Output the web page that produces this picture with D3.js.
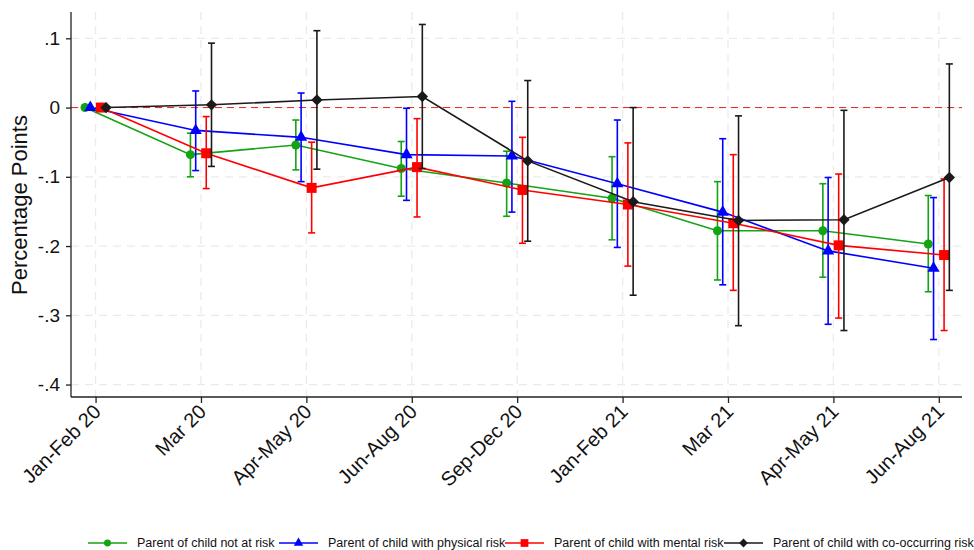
<!DOCTYPE html>
<html>
<head>
<meta charset="utf-8">
<script src="https://cdn.jsdelivr.net/npm/d3@7"></script>
<style>
  body { margin: 0; background: #fff; }
  svg { display: block; font-family: "Liberation Sans", Arial, Helvetica, sans-serif; }
</style>
</head>
<body>
<svg id="chart" width="974" height="550"></svg>
<script>
// periods on the x axis
var periods = ["Jan-Feb 20", "Mar 20", "Apr-May 20", "Jun-Aug 20", "Sep-Dec 20",
               "Jan-Feb 21", "Mar 21", "Apr-May 21", "Jun-Aug 21"];
var yTicks = [0.1, 0, -0.1, -0.2, -0.3, -0.4];
var yTickLabels = [".1", "0", "-.1", "-.2", "-.3", "-.4"];

// point estimates and 95% CI, Jan-Feb 20 is the reference period
var notAtRisk   = [0, -0.068, -0.054, -0.088, -0.109, -0.131, -0.178, -0.178, -0.197];
var notAtRiskLo = [null, -0.100, -0.090, -0.128, -0.157, -0.191, -0.249, -0.245, -0.266];
var notAtRiskHi = [null, -0.037, -0.018, -0.049, -0.063, -0.071, -0.107, -0.110, -0.127];

var physical   = [0, -0.033, -0.043, -0.068, -0.070, -0.110, -0.151, -0.207, -0.232];
var physicalLo = [null, -0.091, -0.107, -0.134, -0.151, -0.202, -0.256, -0.313, -0.335];
var physicalHi = [null, 0.024, 0.021, -0.001, 0.009, -0.018, -0.045, -0.101, -0.130];

var mental   = [0, -0.066, -0.116, -0.086, -0.119, -0.140, -0.167, -0.199, -0.213];
var mentalLo = [null, -0.117, -0.181, -0.158, -0.196, -0.229, -0.264, -0.304, -0.322];
var mentalHi = [null, -0.013, -0.050, -0.016, -0.043, -0.051, -0.068, -0.096, -0.103];

var cooccur   = [0, 0.004, 0.011, 0.016, -0.077, -0.136, -0.163, -0.162, -0.101];
var cooccurLo = [null, -0.085, -0.089, -0.088, -0.193, -0.271, -0.315, -0.322, -0.264];
var cooccurHi = [null, 0.093, 0.111, 0.120, 0.039, 0.000, -0.012, -0.004, 0.063];

var seriesNames = ["Parent of child not at risk", "Parent of child with physical risk",
                   "Parent of child with mental risk", "Parent of child with co-occurring risk"];

var series = [
    {name: seriesNames[0], vals: notAtRisk, lo: notAtRiskLo, hi: notAtRiskHi, color: "#13a313", shape: d3.symbolCircle, size: 64, rot: 0, off: -0.1},
    {name: seriesNames[1], vals: physical, lo: physicalLo, hi: physicalHi, color: "#0000ff", shape: d3.symbolTriangle, size: 64, rot: 0, off: -0.05},
    {name: seriesNames[2], vals: mental, lo: mentalLo, hi: mentalHi, color: "#ff0000", shape: d3.symbolSquare, size: 100, rot: 0, off: 0.05},
    {name: seriesNames[3], vals: cooccur, lo: cooccurLo, hi: cooccurHi, color: "#1a1a1a", shape: d3.symbolSquare, size: 64, rot: 45, off: 0.1}
];

var svg = d3.select("#chart");
var plotLeft = 71, plotRight = 962, plotTop = 12, plotBottom = 397;

var x = d3.scaleLinear().domain([-0.233, 8.22]).range([plotLeft, plotRight]);
var y = d3.scaleLinear().domain([-0.418, 0.138]).range([plotBottom, plotTop]);

// grid
var grid = svg.append("g");
yTicks.forEach(function (t) {
    grid.append("line").attr("x1", plotLeft).attr("x2", plotRight).attr("y1", y(t)).attr("y2", y(t))
        .style("stroke", "#ebebeb").style("stroke-width", 1.3).style("stroke-dasharray", "8,6");
});
periods.forEach(function (p, i) {
    grid.append("line").attr("x1", x(i)).attr("x2", x(i)).attr("y1", plotTop).attr("y2", plotBottom)
        .style("stroke", "#ebebeb").style("stroke-width", 1.3).style("stroke-dasharray", "8,6");
});

// zero reference line
svg.append("line").attr("x1", plotLeft).attr("x2", plotRight).attr("y1", y(0)).attr("y2", y(0))
    .style("stroke", "#e8231f").style("stroke-width", 1).style("stroke-dasharray", "7,5");

// axes
var yAxis = d3.axisLeft(y).tickValues(yTicks).tickSize(5).tickPadding(6)
    .tickFormat(function (d, i) { return yTickLabels[i]; });
var gy = svg.append("g").attr("transform", "translate(" + plotLeft + ",0)").call(yAxis);
gy.select(".domain").attr("d", "M0," + plotTop + "V" + plotBottom).style("stroke", "#222").style("stroke-width", 1.3);
gy.selectAll(".tick line").style("stroke", "#222").style("stroke-width", 1.3);
gy.selectAll(".tick text").style("font-size", "19px").style("fill", "#111")
    .style("font-family", "Liberation Sans, Arial, sans-serif");

var xAxis = d3.axisBottom(x).tickValues(d3.range(periods.length)).tickSize(6)
    .tickFormat(function (d) { return periods[d]; });
var gx = svg.append("g").attr("transform", "translate(0," + plotBottom + ")").call(xAxis);
gx.select(".domain").attr("d", "M" + plotLeft + ",0H" + plotRight).style("stroke", "#222").style("stroke-width", 1.3);
gx.selectAll(".tick line").style("stroke", "#222").style("stroke-width", 1.3);
gx.selectAll(".tick text").style("font-size", "20px").style("fill", "#111")
    .style("font-family", "Liberation Sans, Arial, sans-serif")
    .attr("text-anchor", "end").attr("dy", null).attr("y", 0)
    .attr("transform", "translate(6,16) rotate(-45)");

svg.append("text").attr("transform", "translate(27,205) rotate(-90)")
    .attr("text-anchor", "middle").style("font-size", "22px").style("fill", "#111")
    .text("Percentage Points");

// series
var line = d3.line();
series.forEach(function (s) {
    var g = svg.append("g");
    var pts = s.vals.map(function (v, i) { return [x(i + s.off), y(v)]; });
    s.vals.forEach(function (v, i) {
        if (s.lo[i] === null) return;
        var cx = x(i + s.off);
        g.append("line").attr("x1", cx).attr("x2", cx).attr("y1", y(s.lo[i])).attr("y2", y(s.hi[i]))
            .style("stroke", s.color).style("stroke-width", 1.6);
        [s.lo[i], s.hi[i]].forEach(function (c) {
            g.append("line").attr("x1", cx - 3.5).attr("x2", cx + 3.5).attr("y1", y(c)).attr("y2", y(c))
                .style("stroke", s.color).style("stroke-width", 1.6);
        });
    });
    g.append("path").attr("d", line(pts)).style("fill", "none")
        .style("stroke", s.color).style("stroke-width", 1.6);
    g.selectAll("path.mk").data(pts).enter().append("path").attr("class", "mk")
        .attr("transform", function (d) { return "translate(" + d[0] + "," + d[1] + ") rotate(" + s.rot + ")"; })
        .attr("d", d3.symbol().type(s.shape).size(s.size))
        .style("fill", s.color);
});

// legend
var legendX = [88, 279, 505, 724];
var ly = 543;
series.forEach(function (s, i) {
    var lx = legendX[i];
    svg.append("line").attr("x1", lx).attr("x2", lx + 39).attr("y1", ly).attr("y2", ly)
        .style("stroke", s.color).style("stroke-width", 1.6);
    svg.append("path").attr("transform", "translate(" + (lx + 19.5) + "," + ly + ") rotate(" + s.rot + ")")
        .attr("d", d3.symbol().type(s.shape).size(s.size * 0.6)).style("fill", s.color);
    svg.append("text").attr("x", lx + 49).attr("y", ly + 4).style("font-size", "12.5px")
        .style("fill", "#111").text(s.name);
});
</script>
</body>
</html>
